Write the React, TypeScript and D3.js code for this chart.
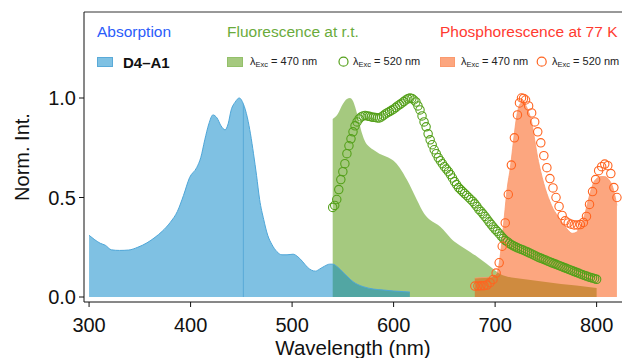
import React from "react";
import * as d3 from "d3";

// absorption of D4-A1 (nm, norm. int.)
const absWl = [300, 305, 311, 316, 322, 330, 339, 348, 357, 365, 372, 380, 387, 393, 399, 406, 410, 414, 418, 422, 426, 430, 434, 437, 440, 444, 448, 452, 456, 459, 462, 465, 468, 472, 476, 480, 485, 490, 495, 501, 505, 510, 515, 519, 523, 527, 532, 537, 540, 545, 550, 555, 560, 565, 570, 580, 590, 600, 610, 616];
const absVal = [0.31, 0.29, 0.27, 0.26, 0.237, 0.234, 0.236, 0.25, 0.272, 0.3, 0.33, 0.375, 0.43, 0.51, 0.6, 0.65, 0.7, 0.79, 0.87, 0.915, 0.9, 0.86, 0.84, 0.87, 0.94, 0.98, 1.0, 0.97, 0.9, 0.82, 0.72, 0.61, 0.49, 0.39, 0.31, 0.265, 0.228, 0.212, 0.212, 0.215, 0.205, 0.18, 0.15, 0.135, 0.13, 0.14, 0.155, 0.165, 0.165, 0.15, 0.125, 0.1, 0.077, 0.062, 0.052, 0.04, 0.035, 0.03, 0.027, 0.025];
const absMarkWl = 452;

// fluorescence at r.t., exc 470 nm (filled)
const fl470Wl = [540, 545, 550, 554, 557, 560, 563, 566, 569, 572, 576, 580, 586, 593, 600, 606, 613, 618, 623, 630, 636, 641, 646, 652, 658, 665, 675, 683, 691, 696, 701, 705, 710, 720, 735, 750, 765, 780, 800];
const fl470Val = [0.895, 0.92, 0.97, 0.995, 1.0, 0.985, 0.94, 0.88, 0.82, 0.78, 0.755, 0.74, 0.72, 0.705, 0.685, 0.65, 0.59, 0.54, 0.487, 0.42, 0.387, 0.37, 0.353, 0.32, 0.286, 0.26, 0.228, 0.2, 0.17, 0.15, 0.13, 0.115, 0.105, 0.095, 0.085, 0.075, 0.065, 0.058, 0.045];

// fluorescence at r.t., exc 520 nm (circles)
const fl520Wl = [540, 542, 544, 546, 548, 550, 552, 554, 556, 558, 560, 562, 564, 566, 568, 570, 572, 574, 576, 578, 580, 582, 584, 586, 588, 590, 592, 594, 596, 598, 600, 602, 604, 606, 608, 610, 612, 614, 616, 618, 620, 622, 624, 626, 628, 630, 632, 634, 636, 638, 640, 642, 644, 646, 648, 650, 652, 654, 656, 658, 660, 662, 664, 666, 668, 670, 672, 674, 676, 678, 680, 682, 684, 686, 688, 690, 692, 694, 696, 698, 700, 702, 704, 706, 708, 710, 712, 714, 716, 718, 720, 722, 724, 726, 728, 730, 732, 734, 736, 738, 740, 742, 744, 746, 748, 750, 752, 754, 756, 758, 760, 762, 764, 766, 768, 770, 772, 774, 776, 778, 780, 782, 784, 786, 788, 790, 792, 794, 796, 798, 800];
const fl520Val = [0.45, 0.46, 0.49, 0.54, 0.59, 0.63, 0.67, 0.72, 0.76, 0.795, 0.83, 0.86, 0.88, 0.895, 0.905, 0.91, 0.912, 0.91, 0.908, 0.905, 0.903, 0.902, 0.9, 0.9, 0.905, 0.912, 0.92, 0.926, 0.932, 0.938, 0.944, 0.952, 0.96, 0.967, 0.974, 0.982, 0.99, 0.996, 1.0, 0.998, 0.99, 0.98, 0.96, 0.94, 0.91, 0.88, 0.855, 0.82, 0.79, 0.765, 0.74, 0.72, 0.7, 0.685, 0.67, 0.655, 0.643, 0.63, 0.615, 0.598, 0.58, 0.565, 0.55, 0.54, 0.53, 0.52, 0.51, 0.5, 0.49, 0.48, 0.468, 0.455, 0.44, 0.43, 0.418, 0.405, 0.392, 0.378, 0.365, 0.352, 0.34, 0.33, 0.318, 0.306, 0.295, 0.285, 0.278, 0.27, 0.263, 0.257, 0.252, 0.247, 0.243, 0.239, 0.235, 0.23, 0.226, 0.221, 0.216, 0.211, 0.206, 0.201, 0.197, 0.193, 0.189, 0.185, 0.18, 0.176, 0.172, 0.168, 0.164, 0.16, 0.156, 0.152, 0.148, 0.144, 0.14, 0.136, 0.132, 0.128, 0.124, 0.12, 0.116, 0.112, 0.108, 0.105, 0.101, 0.098, 0.095, 0.092, 0.089];

// phosphorescence at 77 K, exc 470 nm (filled)
const ph470Wl = [680, 685, 690, 695, 700, 703, 706, 709, 712, 715, 718, 721, 724, 727, 730, 733, 736, 739, 742, 745, 748, 751, 754, 757, 760, 764, 768, 772, 776, 780, 784, 788, 791, 794, 797, 800, 804, 808, 812, 816, 820];
const ph470Val = [0.095, 0.097, 0.098, 0.1, 0.11, 0.14, 0.25, 0.4, 0.55, 0.65, 0.78, 0.9, 0.965, 0.98, 0.965, 0.93, 0.88, 0.79, 0.7, 0.63, 0.57, 0.52, 0.48, 0.445, 0.42, 0.39, 0.36, 0.335, 0.32, 0.325, 0.36, 0.41, 0.47, 0.53, 0.575, 0.595, 0.605, 0.605, 0.59, 0.55, 0.46];

// phosphorescence at 77 K, exc 520 nm (circles)
const ph520Wl = [680, 683, 686, 689, 692, 695, 698, 701, 704, 707, 710, 713, 716, 719, 722, 724, 726, 728, 730, 733, 736, 739, 742, 745, 748, 751, 754, 757, 760, 763, 766, 769, 772, 775, 778, 781, 784, 787, 790, 793, 796, 799, 802, 805, 808, 811, 814, 817, 820];
const ph520Val = [0.055, 0.055, 0.056, 0.057, 0.06, 0.072, 0.088, 0.12, 0.172, 0.255, 0.372, 0.515, 0.663, 0.8, 0.915, 0.975, 1.0, 0.998, 0.99, 0.96, 0.925, 0.88, 0.83, 0.775, 0.71, 0.65, 0.595, 0.548, 0.5, 0.455, 0.41, 0.383, 0.372, 0.366, 0.362, 0.362, 0.364, 0.375, 0.405, 0.465, 0.53, 0.59, 0.635, 0.655, 0.668, 0.66, 0.62, 0.55, 0.5];

const xTicks = [300, 400, 500, 600, 700, 800];
const yTicks = [0, 0.5, 1.0];

const W = 622;
const H = 358;
const left = 84;
const top = 12;
const bottom = 302;
const right = 622;

const font = "'Liberation Sans', Arial, Helvetica, sans-serif";

const zip = (xs: number[], ys: number[]) => xs.map((x, i) => [x, ys[i]] as [number, number]);

const Lambda = ({ x, y, nm }: { x: number; y: number; nm: string }) => (
  <text x={x} y={y} fontSize={11} fontFamily={font} fill="#222">
    λ<tspan fontSize={7.5} dy={2}>Exc</tspan>
    <tspan dy={-2}>{` = ${nm} nm`}</tspan>
  </text>
);

export default function App() {
  const x = d3.scaleLinear().domain([295, 825]).range([left, right]);
  const y = d3.scaleLinear().domain([0, 1]).range([297, 98]);

  const area = d3
    .area<[number, number]>()
    .x((d) => x(d[0]))
    .y0(y(0))
    .y1((d) => y(d[1]))
    .curve(d3.curveMonotoneX);
  const line = d3
    .line<[number, number]>()
    .x((d) => x(d[0]))
    .y((d) => y(d[1]))
    .curve(d3.curveMonotoneX);

  const abs = zip(absWl, absVal);
  const fl470 = zip(fl470Wl, fl470Val);
  const fl520 = zip(fl520Wl, fl520Val);
  const ph470 = zip(ph470Wl, ph470Val);
  const ph520 = zip(ph520Wl, ph520Val);
  const absMark = abs.find((d) => d[0] === absMarkWl)!;

  const blue = "#0083c7";
  const green = "#4c9400";
  const orange = "#f94d00";

  return (
    <svg width={W} height={H} style={{ position: "absolute", left: 0, top: 0, display: "block", background: "#fff" }}>
      <defs>
        <clipPath id="plot">
          <rect x={left} y={top} width={right - left} height={bottom - top} />
        </clipPath>
      </defs>

      <g clipPath="url(#plot)">
        <path d={area(fl470)!} fill={green} fillOpacity={0.5} />
        <path d={area(abs)!} fill={blue} fillOpacity={0.5} />
        <path d={line(abs)!} fill="none" stroke="#4ea6d8" strokeWidth={1} />
        <line x1={x(absMark[0])} x2={x(absMark[0])} y1={y(0)} y2={y(absMark[1])} stroke="#5aaad8" strokeWidth={1} />
        <path d={area(ph470)!} fill={orange} fillOpacity={0.5} />
        <path d={line(ph470)!} fill="none" stroke="#fb9a6e" strokeWidth={0.8} />
        {fl520.map((d, i) => (
          <circle key={"g" + i} cx={x(d[0])} cy={y(d[1])} r={4.2} fill="none" stroke="#54a01a" strokeWidth={1.1} />
        ))}
        {ph520.map((d, i) => (
          <circle key={"o" + i} cx={x(d[0])} cy={y(d[1])} r={4.2} fill="none" stroke="#ff6420" strokeWidth={1.1} />
        ))}
      </g>

      {/* frame */}
      <line x1={left} x2={right} y1={top} y2={top} stroke="#333" strokeWidth={1} />
      <line x1={left} x2={left} y1={top} y2={bottom} stroke="#111" strokeWidth={1} />
      <line x1={left} x2={right} y1={bottom} y2={bottom} stroke="#111" strokeWidth={1} />

      {yTicks.map((t) => (
        <g key={"y" + t}>
          <line x1={left - 5} x2={left} y1={y(t)} y2={y(t)} stroke="#111" />
          <text x={left - 8} y={y(t)} dy="0.36em" textAnchor="end" fontSize={20} fontFamily={font} fill="#111">
            {d3.format(".1f")(t)}
          </text>
        </g>
      ))}
      {xTicks.map((t) => (
        <g key={"x" + t}>
          <line x1={x(t)} x2={x(t)} y1={bottom} y2={bottom + 5} stroke="#111" />
          <text x={x(t)} y={332} textAnchor="middle" fontSize={20} fontFamily={font} fill="#111">
            {t}
          </text>
        </g>
      ))}

      <text x={(left + right) / 2} y={354.5} textAnchor="middle" fontSize={20.5} fontFamily={font} fill="#111">
        Wavelength (nm)
      </text>
      <text transform={`translate(28.5,${(top + bottom) / 2}) rotate(-90)`} textAnchor="middle" fontSize={20} fontFamily={font} fill="#111">
        Norm. Int.
      </text>

      {/* legend */}
      <text x={97} y={37} fontSize={15.5} fontFamily={font} fill="#2a5cfa">Absorption</text>
      <text x={227} y={37} fontSize={15.5} fontFamily={font} fill="#6aab3c">Fluorescence at r.t.</text>
      <text x={440} y={37} fontSize={15.5} fontFamily={font} fill="#ff3a30">Phosphorescence at 77 K</text>

      <rect x={97.5} y={57.5} width={15} height={9} fill={blue} fillOpacity={0.5} stroke="#5aaad8" strokeWidth={1} />
      <text x={123} y={68} fontSize={15} fontWeight="bold" fontFamily={font} fill="#111">D4–A1</text>

      <rect x={227.5} y={57.5} width={15} height={9} fill={green} fillOpacity={0.5} stroke="#93c06a" strokeWidth={1} />
      <Lambda x={250} y={65} nm="470" />
      <circle cx={343.5} cy={61.7} r={4.5} fill="none" stroke="#54a01a" strokeWidth={1.2} />
      <Lambda x={353} y={65} nm="520" />

      <rect x={440.5} y={57.5} width={14} height={9} fill={orange} fillOpacity={0.5} stroke="#fb9a6e" strokeWidth={1} />
      <Lambda x={461} y={65} nm="470" />
      <circle cx={541.7} cy={61.7} r={4.5} fill="none" stroke="#ff6420" strokeWidth={1.2} />
      <Lambda x={552} y={65} nm="520" />
    </svg>
  );
}
